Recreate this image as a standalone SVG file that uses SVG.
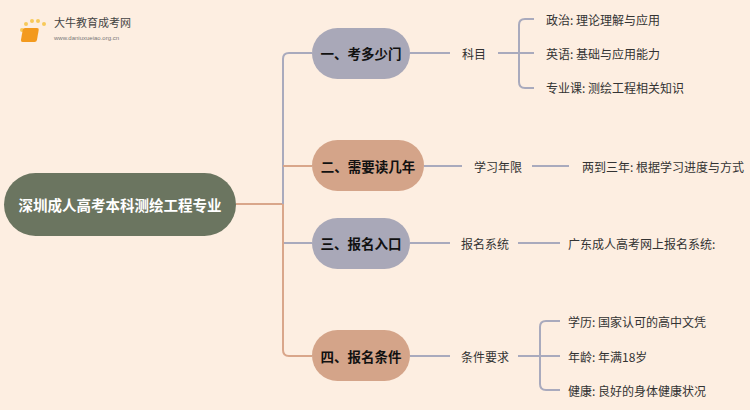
<svg xmlns="http://www.w3.org/2000/svg" width="750" height="410" viewBox="0 0 750 410">
<style>
.g{stroke:#a9aabd;stroke-width:2;fill:none}
.o{stroke:#d9a68a;stroke-width:2;fill:none}
.t{font-family:"Noto Sans CJK SC",sans-serif;font-size:12px;fill:#333;dominant-baseline:central}
.b{font-family:"Noto Sans CJK SC",sans-serif;font-size:13.5px;font-weight:bold;fill:#111;text-anchor:middle;dominant-baseline:central}
</style>
<rect width="750" height="410" fill="#fdeee1"/>
<g id="logo">
<circle cx="22" cy="30" r="2" fill="#f7c95a"/><circle cx="26" cy="24" r="2" fill="#f7c95a"/><circle cx="32" cy="21" r="2" fill="#f7c95a"/><circle cx="38" cy="21" r="2" fill="#f7c95a"/><circle cx="44" cy="24" r="2" fill="#f7c95a"/>
<rect x="28" y="28" width="16" height="14" rx="2" fill="#f39a1e" transform="skewX(-10)"/>
<text x="54" y="27" font-family="Noto Sans CJK SC,sans-serif" font-size="11" fill="#444">大牛教育成考网</text>
<text x="54" y="40" font-family="Liberation Sans,sans-serif" font-size="6" fill="#777">www.daniuxueiao.org.cn</text>
</g>
<g id="connectors">
<path class="o" d="M236 204H283"/>
<path class="g" d="M312 53H289Q283 53 283 59V204"/>
<path class="o" d="M283 166H312"/>
<path class="g" d="M283 204V243H312"/>
<path class="o" d="M283 204V350Q283 356 289 356H312"/>
<path class="g" d="M410 53H450M498 53H534"/>
<path class="g" d="M534 19H525Q519 19 519 25V82Q519 88 525 88H534M519 53H534"/>
<path class="g" d="M424 166H462M532 166H569"/>
<path class="g" d="M410 243H450M518 243H560"/>
<path class="g" d="M410 356H450M518 356H540"/>
<path class="g" d="M560 321H546Q540 321 540 327V384Q540 390 546 390H560M540 356H560"/>
</g>
<g id="center"><rect x="4" y="173" width="232" height="63" rx="31.5" fill="#6b7560"/>
<text x="120" y="204.5" text-anchor="middle" dominant-baseline="central" font-family="Noto Sans CJK SC,sans-serif" font-size="14.5" font-weight="bold" fill="#fff">深圳成人高考本科测绘工程专业</text></g>
<g id="n1"><rect x="312" y="28" width="98" height="51" rx="25.5" fill="#a9a8b8"/><text class="b" x="361" y="53">一、考多少门</text></g>
<g id="n2"><rect x="312" y="140" width="112" height="51" rx="25.5" fill="#d4a489"/><text class="b" x="368" y="166">二、需要读几年</text></g>
<g id="n3"><rect x="312" y="218" width="98" height="51" rx="25.5" fill="#a9a8b8"/><text class="b" x="361" y="243">三、报名入口</text></g>
<g id="n4"><rect x="312" y="330" width="98" height="51" rx="25.5" fill="#d4a489"/><text class="b" x="361" y="356">四、报名条件</text></g>
<g id="leaves">
<text class="t" x="462" y="53">科目</text>
<text class="t" x="546" y="19">政治: 理论理解与应用</text>
<text class="t" x="546" y="53">英语: 基础与应用能力</text>
<text class="t" x="546" y="87">专业课: 测绘工程相关知识</text>
<text class="t" x="474" y="166">学习年限</text>
<text class="t" x="582" y="166" font-size="11.3">两到三年: 根据学习进度与方式</text>
<text class="t" x="461" y="243">报名系统</text>
<text class="t" x="568" y="243">广东成人高考网上报名系统:</text>
<text class="t" x="461" y="356">条件要求</text>
<text class="t" x="568" y="321">学历: 国家认可的高中文凭</text>
<text class="t" x="568" y="356">年龄: 年满18岁</text>
<text class="t" x="568" y="390">健康: 良好的身体健康状况</text>
</g>
</svg>
